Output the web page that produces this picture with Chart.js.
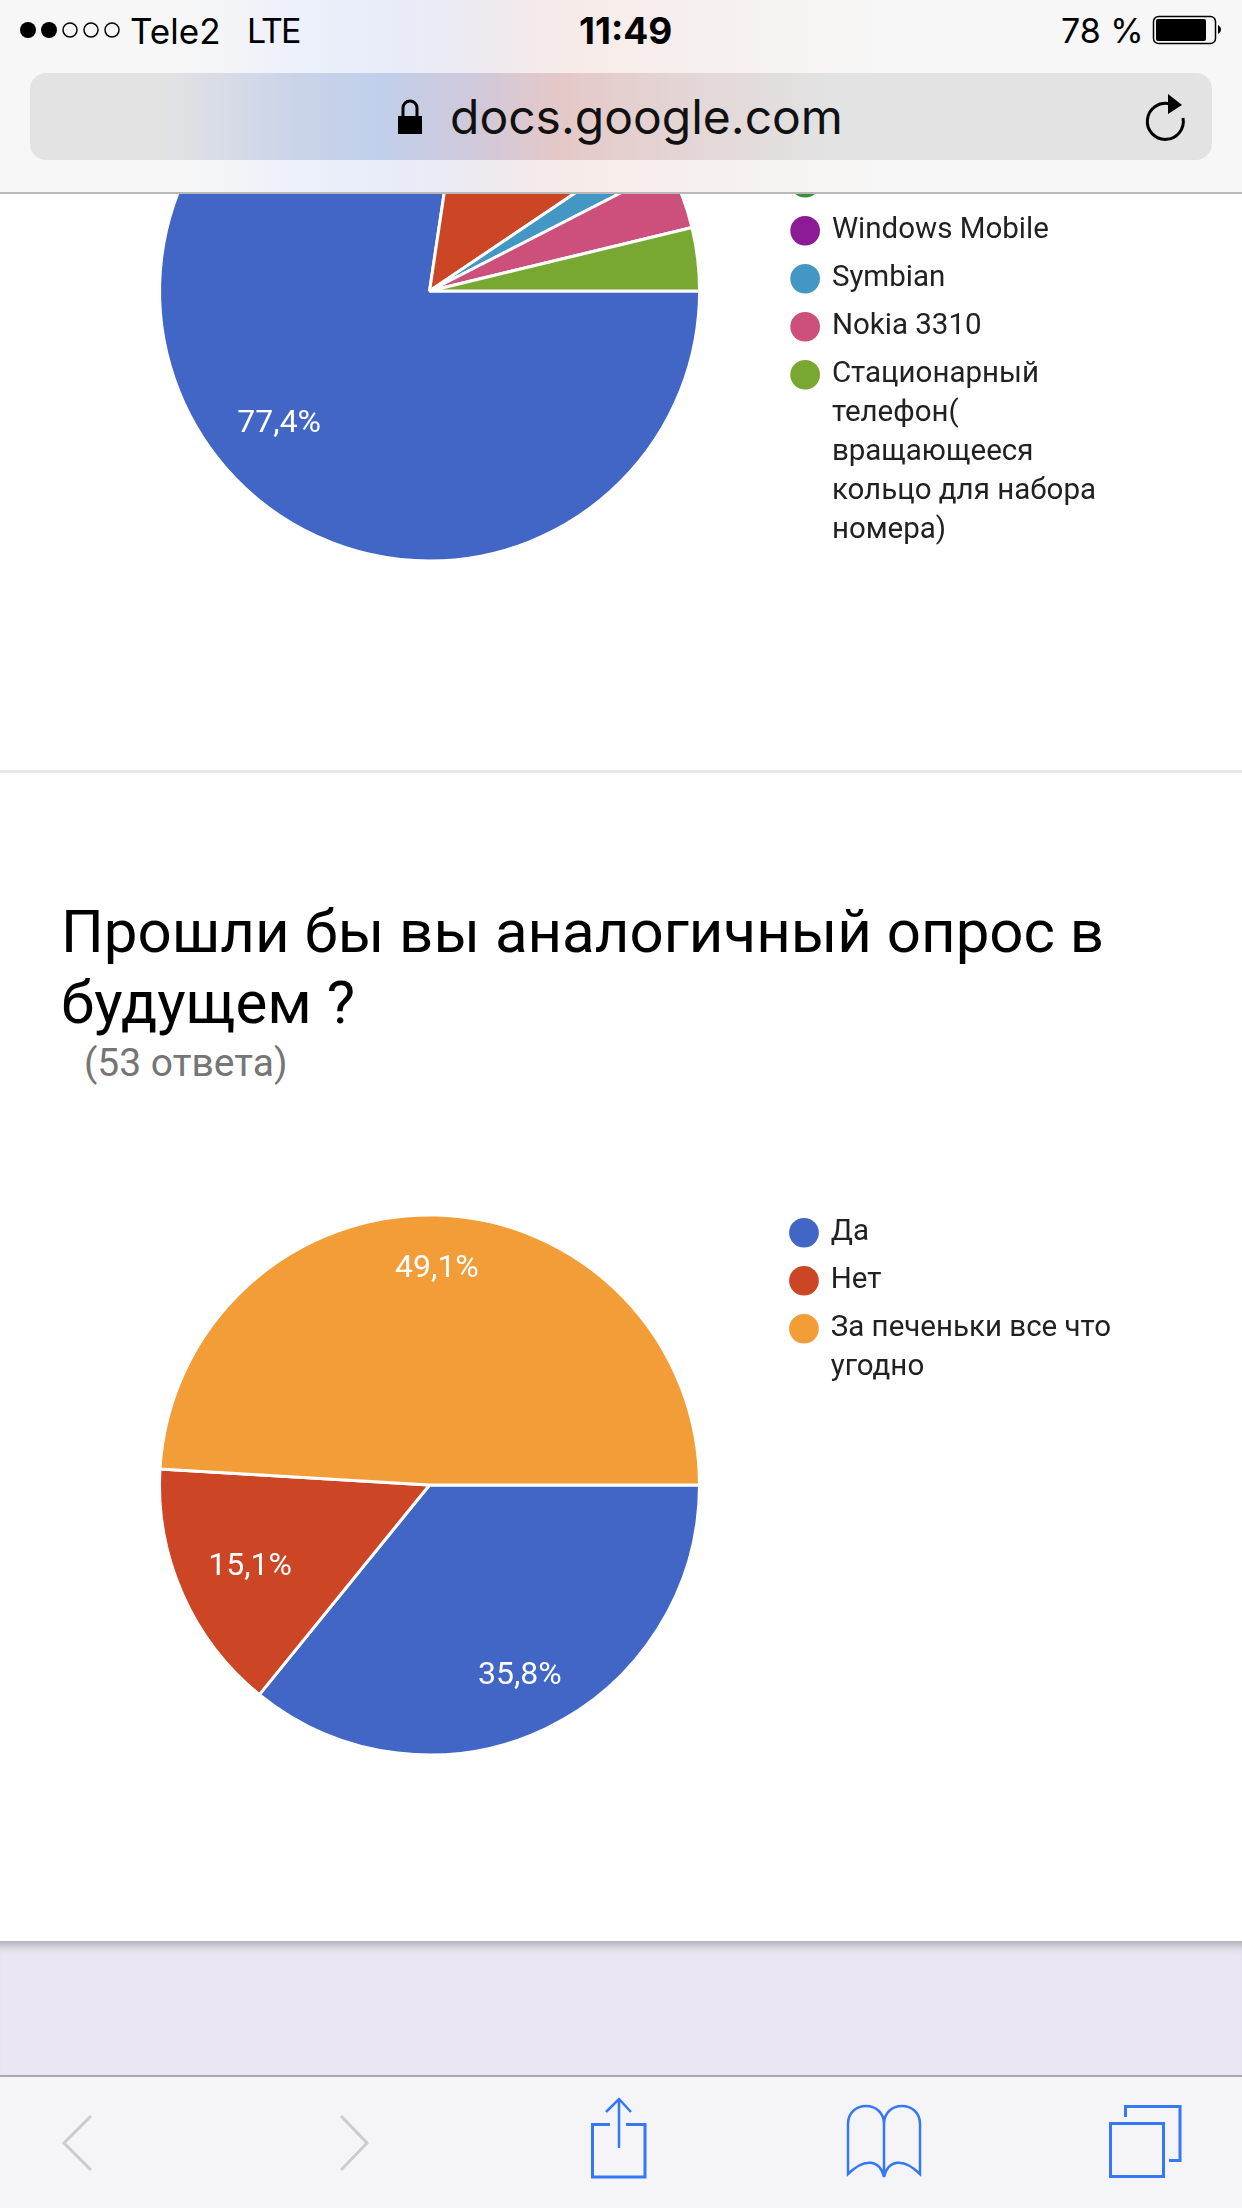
<!DOCTYPE html>
<html lang="ru">
<head>
<meta charset="utf-8">
<title>Опрос</title>
<script src="https://cdn.jsdelivr.net/npm/chart.js@4"></script>
<style>
    html, body { margin: 0; padding: 0; }
    body { position: relative; width: 1242px; height: 2208px; overflow: hidden; background: #fff; font-family: Roboto, sans-serif; }
    canvas { position: absolute; left: 0; }
    #chart1 { top: 0; }
    #chart2 { top: 1190px; }
    .abs { position: absolute; white-space: nowrap; }

    /* safari chrome */
    #topbar { position: absolute; left: 0; top: 0; width: 1242px; height: 192px; z-index: 5; border-bottom: 2px solid #b8b8b8;
        background: linear-gradient(90deg, #f7f7f7 0, #f7f7f7 180px, #e9eefa 340px, #e8ecf8 400px, #f0e9ee 500px, #f7ebe9 570px, #f6f0ee 700px, #f7f7f7 900px); }
    #pill { position: absolute; left: 30px; top: 73px; width: 1182px; height: 87px; border-radius: 16px;
        background: linear-gradient(90deg, #e3e3e3 0, #e3e3e3 130px, #c9d3e9 270px, #c1cfea 350px, #cfc9dc 440px, #e5c8c8 530px, #e4d4d4 640px, #e3e3e3 800px); }
    .status { font-family: Inter, sans-serif; font-size: 34px; color: #000; top: 13px; line-height: 36px; }
    #url { left: 450px; top: 89px; font-family: Inter, sans-serif; font-size: 48px; line-height: 56px; color: #111; }

    #sep { position: absolute; left: 0; top: 770px; width: 1242px; height: 3px; background: #e8e8e8; }
    #title { left: 61px; top: 896px; font-size: 60px; line-height: 71px; color: #000; }
    #sub { left: 84px; top: 1041px; font-size: 39px; line-height: 44px; color: #757575; }

    #lower { position: absolute; left: 0; top: 1941px; width: 1242px; height: 134px; background: #eae6f4; box-shadow: inset 0 12px 10px -8px #a9a7ae; }
    #toolbar { position: absolute; left: 0; top: 2075px; width: 1242px; height: 133px; background: #f5f5f8; border-top: 2px solid #aaa7b0; box-sizing: border-box; }
    svg { position: absolute; left: 0; top: 0; z-index: 6; pointer-events: none; }
</style>
</head>
<body>

<canvas id="chart1" width="1242" height="620"></canvas>
<div id="sep"></div>
<div id="title" class="abs">Прошли бы вы аналогичный опрос в<br>будущем ?</div>
<div id="sub" class="abs">(53 ответа)</div>
<canvas id="chart2" width="1242" height="600"></canvas>

<div id="topbar">
    <div id="pill"></div>
    <div class="abs status" style="left:130px;font-size:35px">Tele2</div>
    <div class="abs status" style="left:247px;letter-spacing:-2px">LTE</div>
    <div class="abs status" style="left:579px;font-weight:700;font-size:37px">11:49</div>
    <div class="abs status" style="left:1061px">78 %</div>
    <div id="url" class="abs">docs.google.com</div>
</div>
<div id="lower"></div>
<div id="toolbar"></div>

<svg width="1242" height="2208" viewBox="0 0 1242 2208" fill="none">
    <!-- signal dots -->
    <circle cx="28" cy="30" r="8" fill="#000"/>
    <circle cx="49" cy="30" r="8" fill="#000"/>
    <circle cx="70" cy="30" r="7" stroke="#000" stroke-width="1.5"/>
    <circle cx="91" cy="30" r="7" stroke="#000" stroke-width="1.5"/>
    <circle cx="112" cy="30" r="7" stroke="#000" stroke-width="1.5"/>
    <!-- battery -->
    <rect x="1153.5" y="16.5" width="62" height="27" rx="5" stroke="#000" stroke-width="1.5"/>
    <rect x="1156" y="19" width="50" height="22" rx="2" fill="#000"/>
    <path d="M1218 25v9c2-1 3-3 3-4.500s-1-3.500-3-4.500z" fill="#000"/>
    <!-- lock -->
    <rect x="398" y="116" width="24" height="18" fill="#000"/>
    <path d="M403 116v-8a7 7 0 0 1 14 0v8" stroke="#000" stroke-width="3"/>
    <!-- reload -->
    <path d="M1173 104a18 18 0 1 0 13 14" stroke="#000" stroke-width="3" transform="translate(-3 0)"/>
    <path d="M1168 94l14 11-14 9z" fill="#000"/>
    <!-- back / forward -->
    <path d="M91 2116L64 2143L91 2170" stroke="#cccccc" stroke-width="3"/>
    <path d="M341 2116L367 2143L341 2170" stroke="#cccccc" stroke-width="3"/>
    <!-- share -->
    <path d="M610 2124.500H592.500V2177H645V2124.500H626" stroke="#3478f6" stroke-width="3"/>
    <path d="M619 2148V2099M606 2112L619 2099L631 2112" stroke="#3478f6" stroke-width="2.500"/>
    <!-- book -->
    <path d="M884 2177C880 2160 865 2157 848 2174V2124C848 2100 884 2100 884 2124C884 2100 920 2100 920 2124V2174C903 2157 888 2160 884 2177V2124" stroke="#3478f6" stroke-width="2.500"/>
    <!-- tabs -->
    <rect x="1110.500" y="2123.500" width="53" height="53" stroke="#3478f6" stroke-width="3"/>
    <path d="M1125.500 2117V2106.500H1180V2160.500H1169" stroke="#3478f6" stroke-width="3"/>
</svg>

<script>
// first pie, the names of the first four slices are hidden behind the toolbar
const phoneLabels = [[''], [''], [''], [''], ['Windows Mobile'], ['Symbian'], ['Nokia 3310'],
    ['Стационарный', 'телефон(', 'вращающееся', 'кольцо для набора', 'номера)']];
const phoneValues = [41, 7, 0, 0, 0, 1, 2, 2];
const phoneColors = ['#4166c5', '#cc4525', '#f29d37', '#3d8e3a', '#8e1b96', '#4397c4', '#cd4f7b', '#78a832'];

// second pie
const againLabels = [['Да'], ['Нет'], ['За печеньки все что', 'угодно']];
const againValues = [19, 8, 26];
const againColors = ['#4166c5', '#cc4525', '#f29d37'];

// percentage text inside the slices
const sliceLabels = {
    id: 'sliceLabels',
    afterDatasetsDraw(chart, args, opts) {
        const ctx = chart.ctx;
        const values = chart.data.datasets[0].data;
        const total = values.reduce((a, b) => a + b, 0);
        ctx.save();
        ctx.font = '32px Roboto';
        ctx.fillStyle = '#fff';
        ctx.textAlign = 'center';
        ctx.textBaseline = 'middle';
        chart.getDatasetMeta(0).data.forEach((arc, i) => {
            const share = values[i] / total;
            if (share < 0.05) return;
            const p = arc.getProps(['x', 'y', 'startAngle', 'endAngle', 'outerRadius']);
            const mid = (p.startAngle + p.endAngle) / 2;
            const r = p.outerRadius * opts.radii[i];
            const text = (share * 100).toFixed(1).replace('.', ',') + '%';
            ctx.fillText(text, p.x + Math.cos(mid) * r + 1, p.y + Math.sin(mid) * r + 3);
        });
        ctx.restore();
    }
};

function makePie(id, labels, values, colors, padding, radii) {
    new Chart(document.getElementById(id), {
        type: 'pie',
        data: {
            labels: labels,
            datasets: [{
                data: values,
                backgroundColor: colors,
                borderColor: '#fff',
                borderWidth: 3,
                radius: 270
            }]
        },
        options: {
            responsive: false,
            animation: false,
            rotation: 90,
            layout: { padding: padding },
            plugins: {
                tooltip: { enabled: false },
                sliceLabels: { radii: radii },
                legend: {
                    position: 'right',
                    align: 'start',
                    labels: {
                        usePointStyle: true,
                        pointStyle: 'circle',
                        boxWidth: 24,
                        boxHeight: 21,
                        padding: 9,
                        color: '#212121',
                        font: { family: 'Roboto', size: 29.5, lineHeight: 1.322 },
                        generateLabels(chart) {
                            return Chart.overrides.pie.plugins.legend.labels.generateLabels(chart)
                                .map(item => ({ ...item, lineWidth: 0 }));
                        }
                    }
                }
            }
        },
        plugins: [sliceLabels]
    });
}

makePie('chart1', phoneLabels, phoneValues, phoneColors, { left: 75, right: 136, top: 15, bottom: 53 }, [0.74, 0.76, 0.76, 0.76, 0.76, 0.76, 0.76, 0.76]);
makePie('chart2', againLabels, againValues, againColors, { left: 76, right: 121, top: 19, bottom: 29 }, [0.77, 0.73, 0.81]);
</script>
</body>
</html>
